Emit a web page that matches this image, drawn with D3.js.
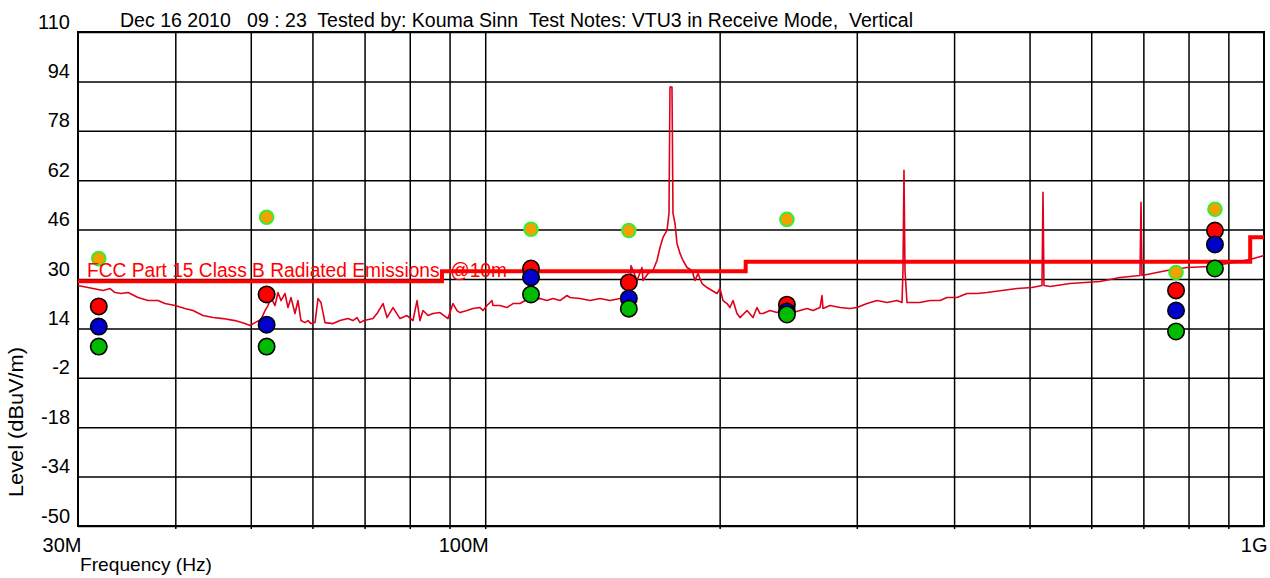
<html>
<head>
<meta charset="utf-8">
<script src="https://d3js.org/d3.v7.min.js"></script>
<style>
  body { margin: 0; background: #fff; }
  text { font-family: Arial, "Liberation Sans", sans-serif; white-space: pre; }
  .gridlines line { stroke: #000; stroke-width: 1.5; }
  .gridlines .domain { stroke: none; }
  .axis .domain { stroke: none; }
  .axis line { stroke: #000; stroke-width: 1.5; }
</style>
</head>
<body>
<svg id="chart" width="1270" height="578"></svg>
<script>
// measured trace (MHz, dBuV/m)
const traceFreqs = [30.00, 30.90, 31.36, 32.30, 32.98, 33.47, 34.07, 34.78, 35.82, 36.90,
  38.01, 38.80, 39.96, 41.16, 42.15, 43.41, 44.72, 46.06, 47.72, 49.15,
  49.89, 50.63, 51.53, 52.15, 52.61, 53.08, 53.71, 54.19, 54.67, 55.32,
  55.82, 56.31, 56.98, 57.49, 58.00, 58.69, 59.22, 59.74, 60.46, 60.99,
  61.54, 62.27, 63.76, 65.09, 66.65, 67.64, 68.45, 69.06, 69.88, 71.76,
  72.62, 73.92, 74.80, 76.14, 77.73, 79.35, 80.77, 81.74, 82.46, 83.20,
  84.44, 85.69, 87.49, 89.58, 90.91, 92.00, 92.82, 94.76, 96.45, 98.47,
  99.35, 100.53, 102.03, 102.33, 104.47, 106.65, 108.56, 110.83, 113.15, 115.17,
  117.58, 120.04, 122.19, 124.75, 127.35, 128.49, 132.34, 136.32, 140.41, 144.62,
  148.96, 153.43, 153.88, 156.64, 158.97, 159.44, 161.81, 164.22, 166.18, 167.66,
  169.15, 171.17, 172.18, 172.69, 173.71, 174.23, 175.26, 176.30, 177.87, 179.46,
  181.59, 184.30, 185.94, 187.59, 189.83, 192.65, 195.52, 198.43, 200.20, 201.99,
  204.39, 206.21, 208.05, 210.52, 212.40, 216.84, 220.72, 223.35, 225.34, 227.34,
  232.10, 236.95, 241.19, 248.43, 253.63, 258.93, 263.56, 269.08, 270.67, 271.47,
  277.15, 285.47, 294.03, 300.18, 309.19, 318.47, 328.02, 337.87, 342.90, 343.91,
  344.93, 345.95, 348.00, 361.64, 372.49, 383.67, 391.69, 403.44, 415.55, 428.02,
  440.86, 460.86, 481.76, 503.61, 518.72, 520.25, 521.79, 531.13, 563.54, 615.71,
  653.24, 693.06, 695.12, 697.17, 750.66, 796.42, 852.50, 912.50, 959.56, 1000];
const traceLevels = [27.89, 27.24, 26.92, 26.27, 26.92, 25.62, 25.29, 25.62, 24.00, 23.02,
  23.02, 22.05, 21.40, 20.43, 19.78, 18.16, 17.51, 17.18, 16.53, 15.56,
  14.92, 15.88, 16.86, 19.78, 21.40, 24.00, 21.40, 25.62, 23.02, 25.29,
  20.75, 24.00, 18.81, 23.02, 16.53, 15.88, 16.53, 15.56, 15.88, 23.67,
  22.37, 15.88, 15.56, 16.53, 17.18, 16.53, 17.51, 15.88, 16.53, 17.18,
  18.81, 22.05, 17.51, 20.75, 17.18, 18.16, 16.53, 23.02, 16.53, 19.78,
  18.16, 18.81, 19.13, 17.18, 22.05, 19.78, 19.13, 19.78, 20.43, 20.75,
  19.78, 21.40, 23.02, 21.40, 21.40, 20.75, 22.05, 22.05, 23.35, 23.02,
  23.67, 23.02, 23.67, 23.02, 24.65, 24.00, 23.67, 23.02, 23.67, 23.02,
  23.67, 25.29, 34.38, 29.51, 33.73, 29.51, 31.79, 32.76, 36.00, 40.22,
  43.47, 45.74, 51.26, 92.15, 92.15, 51.26, 48.01, 41.52, 38.28, 36.00,
  33.73, 32.76, 29.51, 31.79, 28.54, 27.24, 26.27, 25.29, 26.92, 23.02,
  22.05, 20.75, 23.02, 18.81, 17.51, 19.78, 17.51, 20.75, 18.81, 18.81,
  19.78, 19.13, 20.43, 19.13, 19.78, 20.43, 19.78, 20.75, 24.65, 20.43,
  21.40, 20.75, 20.43, 20.75, 22.05, 23.02, 22.37, 23.02, 22.37, 32.76,
  65.21, 32.76, 22.37, 22.37, 23.02, 23.02, 24.00, 24.00, 25.29, 25.29,
  25.62, 26.27, 26.92, 27.24, 27.89, 58.07, 27.89, 27.57, 28.54, 29.19,
  30.49, 31.13, 54.83, 31.13, 32.76, 33.73, 34.05, 35.35, 36.32, 37.63];

// FCC limit steps
const limitFreqs = [30, 88, 216, 960, 1000];
const limitLevels = [29.3, 32.5, 35.6, 43.5, 43.5];

// spot measurements
const markerFreqs = [31.9, 52.4, 114.5, 152.9, 244, 771, 865];
const peakLevels = [36.6, 50.0, 46.1, 45.7, 49.3, 32.1, 52.6];
const redLevels = [21.1, 25.0, 33.4, 28.9, 21.7, 26.3, 45.7];
const blueLevels = [14.6, 15.2, 30.5, 23.7, 19.5, 19.8, 41.2];
const greenLevels = [8.1, 8.1, 25.0, 20.4, 18.5, 13.0, 33.4];

const yTicks = [110, 94, 78, 62, 46, 30, 14, -2, -18, -34, -50];
const xGridFreqs = [40, 50, 60, 70, 80, 90, 100, 200, 300, 400, 500, 600, 700, 800, 900];
const xLabelFreqs = [30, 100, 1000];
const xLabelTexts = ['30M', '100M', '1G'];

const titleText = 'Dec 16 2010   09 : 23  Tested by: Kouma Sinn  Test Notes: VTU3 in Receive Mode,  Vertical';
const limitText = 'FCC Part 15 Class B Radiated Emissions  @10m';

const svg = d3.select('svg#chart');
const margins = {top: 32, left: 78};
const chartWidth = 1186;
const chartHeight = 494;

const xScale = d3.scaleLog().domain([30e6, 1e9]).range([0, chartWidth]);
const yScale = d3.scaleLinear().domain([-50, 110]).range([chartHeight, 0]);

const chartArea = svg.append('g')
  .attr('transform', `translate(${margins.left},${margins.top})`);

// gridlines
chartArea.append('g')
  .attr('class', 'gridlines')
  .call(d3.axisLeft(yScale).tickValues(yTicks).tickSize(-chartWidth).tickFormat(''));

chartArea.append('g')
  .attr('class', 'gridlines')
  .attr('transform', `translate(0,${chartHeight})`)
  .call(d3.axisBottom(xScale).tickValues(xGridFreqs.map(f => f * 1e6)).tickSize(-chartHeight).tickFormat(''));

// small ticks below the frame
chartArea.append('g')
  .attr('class', 'axis')
  .attr('transform', `translate(0,${chartHeight})`)
  .call(d3.axisBottom(xScale).tickValues(xGridFreqs.map(f => f * 1e6)).tickSize(3).tickFormat(''));

chartArea.append('rect')
  .attr('width', chartWidth)
  .attr('height', chartHeight)
  .attr('fill', 'none')
  .attr('stroke', '#000')
  .attr('stroke-width', 2);

// y labels
const yAxis = chartArea.append('g')
  .attr('class', 'axis')
  .call(d3.axisLeft(yScale).tickValues(yTicks).tickSize(0).tickPadding(8)
    .tickFormat(d => String(d)));
yAxis.selectAll('text')
  .attr('dy', -4)
  .attr('font-size', 20)
  .attr('fill', '#000');

// x labels
const xAxis = chartArea.append('g')
  .attr('class', 'axis')
  .attr('transform', `translate(0,${chartHeight})`)
  .call(d3.axisBottom(xScale).tickValues(xLabelFreqs.map(f => f * 1e6))
    .tickSize(0).tickFormat((d, i) => xLabelTexts[i]));
xAxis.selectAll('text')
  .attr('y', 26)
  .attr('dy', 0)
  .attr('x', 3)
  .attr('text-anchor', 'end')
  .attr('font-size', 20)
  .attr('fill', '#000');

// limit line
const limitData = d3.zip(limitFreqs, limitLevels);
chartArea.append('path')
  .datum(limitData)
  .attr('fill', 'none')
  .attr('stroke', '#ff0000')
  .attr('stroke-width', 4)
  .attr('d', d3.line()
    .x(d => xScale(d[0] * 1e6))
    .y(d => yScale(d[1]))
    .curve(d3.curveStepAfter));

// trace
const traceData = d3.zip(traceFreqs, traceLevels);
chartArea.append('path')
  .datum(traceData)
  .attr('fill', 'none')
  .attr('stroke', '#e0001c')
  .attr('stroke-width', 1.6)
  .attr('stroke-linejoin', 'round')
  .attr('d', d3.line()
    .x(d => xScale(d[0] * 1e6))
    .y(d => yScale(d[1])));

// markers
const markerSets = [
  {levels: redLevels, fill: '#ff0000'},
  {levels: blueLevels, fill: '#0000cc'},
  {levels: greenLevels, fill: '#00bb00'}
];
chartArea.selectAll('circle.peak')
  .data(d3.zip(markerFreqs, peakLevels))
  .join('circle')
  .attr('class', 'peak')
  .attr('cx', d => xScale(d[0] * 1e6))
  .attr('cy', d => yScale(d[1]))
  .attr('r', 6.8)
  .attr('fill', '#f5a000')
  .attr('stroke', '#33ee33')
  .attr('stroke-width', 2);

markerSets.forEach((s, k) => {
  chartArea.selectAll('circle.m' + k)
    .data(d3.zip(markerFreqs, s.levels))
    .join('circle')
    .attr('class', 'm' + k)
    .attr('cx', d => xScale(d[0] * 1e6))
    .attr('cy', d => yScale(d[1]))
    .attr('r', 8.2)
    .attr('fill', s.fill)
    .attr('stroke', '#000')
    .attr('stroke-width', 1.6);
});

// texts
chartArea.append('text')
  .attr('x', 9)
  .attr('y', yScale(29.3) - 4)
  .attr('font-size', 20)
  .attr('fill', '#ff0000')
  .attr('textLength', 420)
  .attr('lengthAdjust', 'spacingAndGlyphs')
  .text(limitText);

svg.append('text')
  .attr('x', 120)
  .attr('y', 27)
  .attr('font-size', 20)
  .attr('textLength', 793)
  .attr('lengthAdjust', 'spacingAndGlyphs')
  .text(titleText);

svg.append('text')
  .attr('x', 80)
  .attr('y', 571)
  .attr('font-size', 19)
  .attr('textLength', 132)
  .attr('lengthAdjust', 'spacingAndGlyphs')
  .text('Frequency (Hz)');

svg.append('text')
  .attr('transform', 'translate(23,422) rotate(-90)')
  .attr('text-anchor', 'middle')
  .attr('font-size', 20)
  .attr('textLength', 150)
  .attr('lengthAdjust', 'spacingAndGlyphs')
  .text('Level (dBuV/m)');
</script>
</body>
</html>
